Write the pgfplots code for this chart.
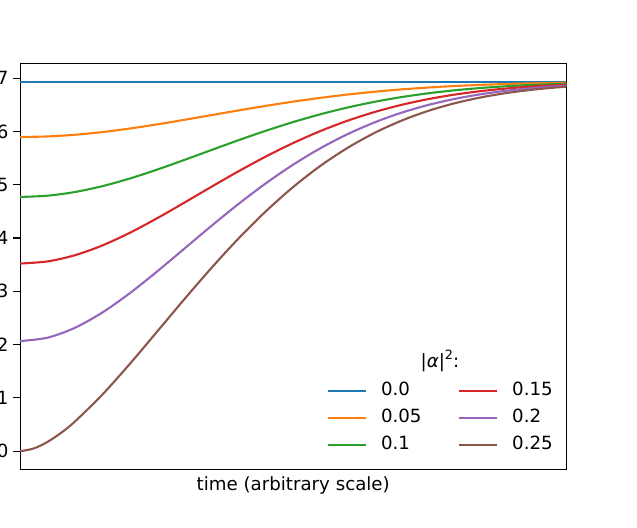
\documentclass[border=0pt]{standalone}
\usepackage{fontspec}
\setmainfont{DejaVu Sans}
\usepackage{pgfplots}
\usepackage{pgfplotstable}
\pgfplotsset{compat=1.18}
\definecolor{c0}{HTML}{1F77B4}
\definecolor{c1}{HTML}{FF7F0E}
\definecolor{c2}{HTML}{2CA02C}
\definecolor{c3}{HTML}{D62728}
\definecolor{c4}{HTML}{9467BD}
\definecolor{c5}{HTML}{8C564B}
\pgfplotstableread{
t a0 a1 a2 a3 a4
0.00 0.69315 0.58952 0.47707 0.35213 0.20664
0.05 0.69315 0.59059 0.47941 0.35610 0.21303
0.10 0.69315 0.59373 0.48628 0.36767 0.23146
0.15 0.69315 0.59875 0.49718 0.38590 0.25996
0.20 0.69315 0.60533 0.51141 0.40943 0.29593
0.25 0.69315 0.61311 0.52809 0.43669 0.33665
0.30 0.69315 0.62166 0.54627 0.46605 0.37959
0.35 0.69315 0.63057 0.56505 0.49601 0.42264
0.40 0.69315 0.63945 0.58363 0.52534 0.46412
0.45 0.69315 0.64798 0.60133 0.55301 0.50277
0.50 0.69315 0.65590 0.61765 0.57832 0.53776
0.55 0.69315 0.66303 0.63226 0.60081 0.56861
0.60 0.69315 0.66927 0.64499 0.62028 0.59513
0.65 0.69315 0.67458 0.65578 0.63672 0.61741
0.70 0.69315 0.67900 0.66471 0.65028 0.63570
0.75 0.69315 0.68257 0.67192 0.66119 0.65038
0.80 0.69315 0.68540 0.67761 0.66978 0.66190
0.85 0.69315 0.68758 0.68199 0.67638 0.67075
0.90 0.69315 0.68923 0.68530 0.68136 0.67740
0.95 0.69315 0.69044 0.68773 0.68501 0.68229
1.00 0.69315 0.69132 0.68948 0.68765 0.68581
}\datamain
\pgfplotstableread{
t a5
0.000 0.00000
0.025 0.00523
0.050 0.01744
0.075 0.03459
0.100 0.05554
0.150 0.10573
0.200 0.16296
0.250 0.22352
0.300 0.28451
0.350 0.34368
0.400 0.39935
0.450 0.45031
0.500 0.49585
0.550 0.53559
0.600 0.56950
0.650 0.59782
0.700 0.62097
0.750 0.63948
0.800 0.65398
0.850 0.66510
0.900 0.67344
0.950 0.67956
1.000 0.68396
}\databrown
\newcommand{\bigfont}{\fontsize{18.2bp}{22bp}\selectfont}
\begin{document}
\begin{tikzpicture}
\begin{axis}[
  name=ax,
  scale only axis,
  width=546.1bp, height=406.4bp,
  xmin=0, xmax=1,
  ymin=-0.034657, ymax=0.727807,
  xtick=\empty,
  ytick pos=left,
  ytick={0,0.1,0.2,0.3,0.4,0.5,0.6,0.7},
  yticklabels={0,1,2,3,4,5,6,7},
  tick align=outside,
  major tick length=7bp,
  tick style={line width=1.1bp, black},
  axis line style={line width=1.1bp, black},
  tick label style={font=\bigfont},
  yticklabel style={anchor=east, inner sep=0pt, xshift=-4.5bp},
  xlabel={time (arbitrary scale)},
  xlabel style={font=\bigfont, at={(axis description cs:0.5,0)}, anchor=base, inner sep=0pt, yshift=-21bp},
  legend columns=2,
  legend cell align=left,
  legend style={draw=none, fill=none, font=\bigfont,
    at={(axis description cs:0.5617,0.2158)}, anchor=north west,
    inner sep=0pt, outer sep=0pt,
    row sep=9.6bp,
    nodes={inner sep=0pt, text height=13.4bp, text depth=4bp},
    /tikz/every odd column/.style={column sep=14bp},
    /tikz/every even column/.style={column sep=36.5bp}},
  legend image code/.code={\draw[#1] (0bp,0bp) -- (38bp,0bp);},
  every axis plot/.append style={line width=2.1bp},
]
\addplot[c0, forget plot] table[x=t, y=a0] {\datamain};
\addplot[c1, smooth, forget plot] table[x=t, y=a1] {\datamain};
\addplot[c2, smooth, forget plot] table[x=t, y=a2] {\datamain};
\addplot[c3, smooth, forget plot] table[x=t, y=a3] {\datamain};
\addplot[c4, smooth, forget plot] table[x=t, y=a4] {\datamain};
\addplot[c5, smooth, forget plot] table[x=t, y=a5] {\databrown};
\addlegendimage{c0, line width=2.1bp}
\addlegendentry{0.0}
\addlegendimage{c3, line width=2.1bp}
\addlegendentry{0.15}
\addlegendimage{c1, line width=2.1bp}
\addlegendentry{0.05}
\addlegendimage{c4, line width=2.1bp}
\addlegendentry{0.2}
\addlegendimage{c2, line width=2.1bp}
\addlegendentry{0.1}
\addlegendimage{c5, line width=2.1bp}
\addlegendentry{0.25}
\node[font=\bigfont, inner sep=0pt] at (rel axis cs:0.7686,0.2675)
  {|\textit{α}|\raisebox{0.45em}{\fontsize{12.8bp}{12.8bp}\selectfont 2}:};
\end{axis}
\pgfresetboundingbox
\path[use as bounding box] ([xshift=-20.2bp,yshift=-58.3bp]ax.south west) rectangle ([xshift=70.7bp,yshift=63.3bp]ax.north east);
\end{tikzpicture}
\end{document}
